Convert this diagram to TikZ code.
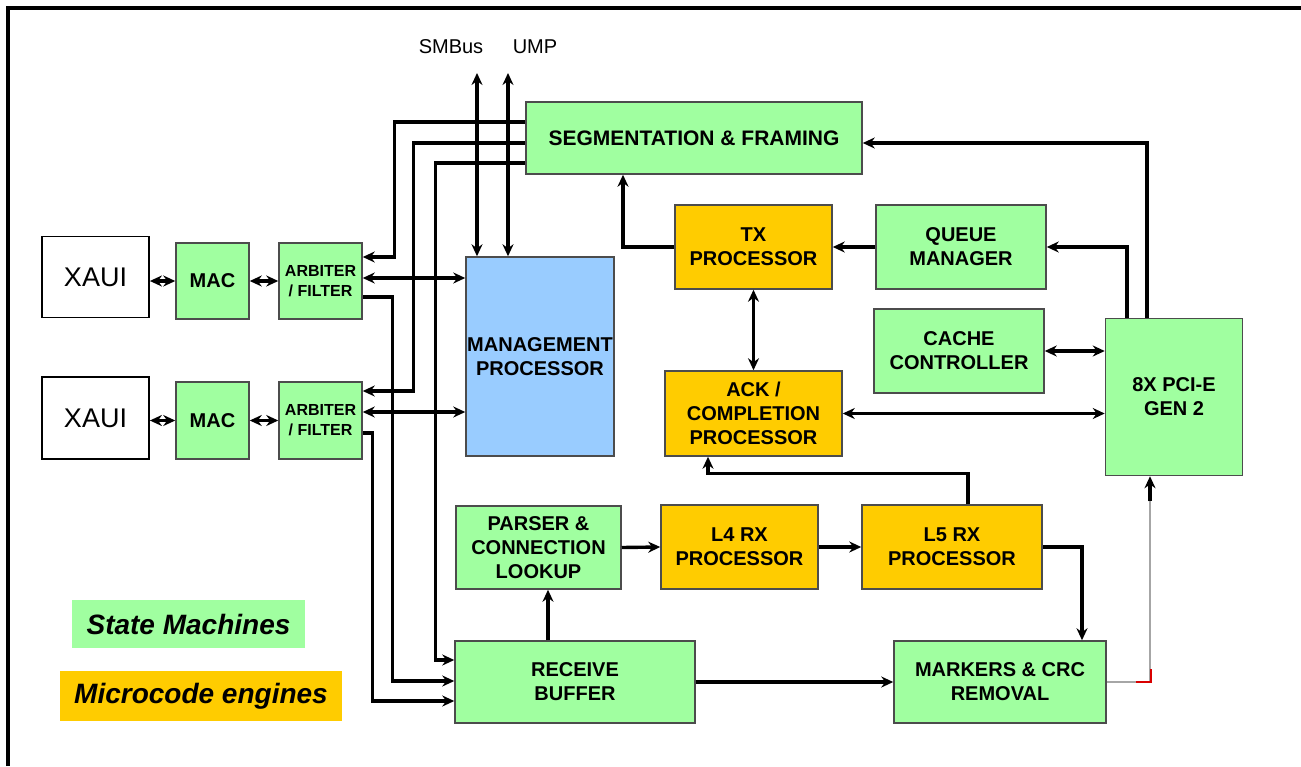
\documentclass[tikz,border=0pt]{standalone}
\usepackage{fontspec}
\setmainfont{Liberation Sans}
\usetikzlibrary{arrows.meta}
\definecolor{smgreen}{RGB}{160,255,160}
\definecolor{mcyellow}{RGB}{255,204,0}
\definecolor{mpblue}{RGB}{153,204,255}
\begin{document}
\begin{tikzpicture}[x=1pt,y=-1pt,>={Stealth[length=12pt,width=11pt]},
  blk/.style={draw=black!70, line width=1.5pt, align=center, inner sep=0pt, font=\bfseries\fontsize{20}{24}\selectfont},
  sm/.style={blk, fill=smgreen},
  mc/.style={blk, fill=mcyellow},
  wire/.style={line width=3.4pt}]
\useasboundingbox (0,0) rectangle (1301,766);
\draw[line width=3.5pt] (8,766) -- (8,8) -- (1301,8);
\node[draw, line width=1.8pt, minimum width=107, minimum height=81, font=\fontsize{27}{30}\selectfont] (xaui1) at (95.5,277) {XAUI};
\node[draw, line width=1.8pt, minimum width=107, minimum height=82, font=\fontsize{27}{30}\selectfont] (xaui2) at (95.5,418) {XAUI};
\node[sm, minimum width=73, minimum height=76] (mac1) at (212.5,281) {MAC};
\node[sm, minimum width=73, minimum height=77] (mac2) at (212.5,420.5) {MAC};
\node[sm, minimum width=83, minimum height=76, font=\bfseries\fontsize{16}{20}\selectfont] (arb1) at (320.5,281) {ARBITER\\/ FILTER};
\node[sm, minimum width=83, minimum height=77, font=\bfseries\fontsize{16}{20}\selectfont] (arb2) at (320.5,420.5) {ARBITER\\/ FILTER};
\node[sm, minimum width=336, minimum height=72, font=\bfseries\fontsize{21}{24}\selectfont] (seg) at (694,138) {SEGMENTATION \& FRAMING};
\node[blk, fill=mpblue, minimum width=148, minimum height=199] (mgmt) at (540,356.5) {MANAGEMENT\\PROCESSOR};
\node[mc, minimum width=157, minimum height=84] (tx) at (753.5,247) {TX\\PROCESSOR};
\node[sm, minimum width=170, minimum height=84] (queue) at (961,247) {QUEUE\\MANAGER};
\node[sm, minimum width=170, minimum height=84] (cache) at (959,351) {CACHE\\CONTROLLER};
\node[mc, minimum width=177, minimum height=85] (ack) at (753.5,413.5) {ACK /\\COMPLETION\\PROCESSOR};
\node[sm, minimum width=137, minimum height=157] (pci) at (1174,397) {8X PCI-E\\GEN 2};
\node[sm, minimum width=165, minimum height=83] (parser) at (538.5,547.5) {PARSER \&\\CONNECTION\\LOOKUP};
\node[mc, minimum width=157, minimum height=84] (l4) at (739.5,547) {L4 RX\\PROCESSOR};
\node[mc, minimum width=180, minimum height=84] (l5) at (952,547) {L5 RX\\PROCESSOR};
\node[sm, minimum width=240, minimum height=82] (rxbuf) at (575,682) {RECEIVE\\BUFFER};
\node[sm, minimum width=212, minimum height=82] (markers) at (1000,682) {MARKERS \& CRC\\REMOVAL};
\node[fill=smgreen, minimum width=233, minimum height=48, font=\bfseries\itshape\fontsize{28}{32}\selectfont] (smleg) at (188.5,624) {State Machines};
\node[fill=mcyellow, minimum width=282, minimum height=50, font=\bfseries\itshape\fontsize{28}{32}\selectfont] (mcleg) at (201,696) {Microcode engines};
\node[font=\fontsize{20}{24}\selectfont] (smbus) at (451,47) {SMBus};
\node[font=\fontsize{20}{24}\selectfont] (ump) at (535,47) {UMP};
\coordinate (smbtop) at (477,73);
\coordinate (umptop) at (508,73);
\draw[wire,<->] (xaui1.east |- mac1) -- (mac1.west);
\draw[wire,<->] (mac1.east) -- (arb1.west);
\draw[wire,<->] (xaui2.east |- mac2) -- (mac2.west);
\draw[wire,<->] (mac2.east) -- (arb2.west);
\draw[wire,<->] (smbtop) -- (smbtop |- mgmt.north);
\draw[wire,<->] (umptop) -- (umptop |- mgmt.north);
\draw[wire,->] ([yshift=16pt]seg.west) -| ([xshift=32pt,yshift=24pt]arb1.east) -- ([yshift=24pt]arb1.east);
\draw[wire,->] ([yshift=-5pt]seg.west) -| ([xshift=51pt,yshift=29.5pt]arb2.east) -- ([yshift=29.5pt]arb2.east);
\draw[wire,->] ([yshift=-25pt]seg.west) -| ([xshift=-19pt,yshift=22pt]rxbuf.west) -- ([yshift=22pt]rxbuf.west);
\draw[wire,->] ([yshift=-16pt]arb1.east) -| ([xshift=-62pt,yshift=1pt]rxbuf.west) -- ([yshift=1pt]rxbuf.west);
\draw[wire,->] ([yshift=-12.5pt]arb2.east) -| ([xshift=-82pt,yshift=-19pt]rxbuf.west) -- ([yshift=-19pt]rxbuf.west);
\draw[wire,<->] ([yshift=3pt]arb1.east) -- ([yshift=3pt]arb1.east -| mgmt.west);
\draw[wire,<->] ([yshift=8.5pt]arb2.east) -- ([yshift=8.5pt]arb2.east -| mgmt.west);
\draw[wire,->] (tx.west) -| ([xshift=-71pt]seg.south);
\draw[wire,->] (queue.west) -- (tx.east);
\draw[wire,->] ([xshift=-47pt]pci.north) |- (queue.east);
\draw[wire,->] ([xshift=-27pt]pci.north) |- ([yshift=-5pt]seg.east);
\draw[wire,<->] (cache.east) -- (cache.east -| pci.west);
\draw[wire,<->] (ack.east) -- (ack.east -| pci.west);
\draw[wire,<->] (tx.south) -- (ack.north);
\draw[wire,->] ([xshift=16pt]l5.north) -- ++(0,-31) -| ([xshift=-45.5pt]ack.south);
\draw[wire,->] (parser.east) -- (l4.west);
\draw[wire,->] (l4.east) -- (l5.west);
\draw[wire,->] (l5.east) -| ([xshift=82pt]markers.north);
\draw[wire,->] (rxbuf.east) -- (rxbuf.east -| markers.west);
\draw[wire,->] ([xshift=-27pt]rxbuf.north) -- ([xshift=-27pt]rxbuf.north |- parser.south);
\draw[black!35, line width=1.2pt] (markers.east) -| ([xshift=-24pt,yshift=-25pt]pci.south);
\draw[red!85!black, line width=1.6pt] ([xshift=29pt]markers.east) -| ++(15,-13);
\draw[wire,->] ([xshift=-24pt,yshift=-25pt]pci.south) -- ([xshift=-24pt]pci.south);
\end{tikzpicture}
\end{document}
